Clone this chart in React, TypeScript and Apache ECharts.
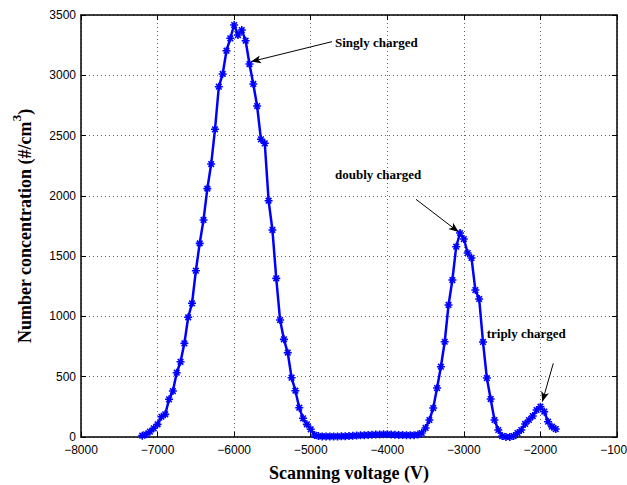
import React, { useEffect, useRef } from "react";
import * as echarts from "echarts";

const voltages = [
  -7200, -7150, -7100, -7050, -7000, -6950, -6900, -6850, -6800, -6750,
  -6700, -6650, -6600, -6550, -6500, -6450, -6400, -6350, -6300, -6250,
  -6200, -6150, -6100, -6050, -6000, -5950, -5900, -5850, -5800, -5750,
  -5700, -5650, -5600, -5550, -5500, -5450, -5400, -5350, -5300, -5250,
  -5200, -5150, -5100, -5050, -5000, -4950, -4900, -4850, -4800, -4750,
  -4700, -4650, -4600, -4550, -4500, -4450, -4400, -4350, -4300, -4250,
  -4200, -4150, -4100, -4050, -4000, -3950, -3900, -3850, -3800, -3750,
  -3700, -3650, -3600, -3550, -3500, -3450, -3400, -3350, -3300, -3250,
  -3200, -3150, -3100, -3050, -3000, -2950, -2900, -2850, -2800, -2750,
  -2700, -2650, -2600, -2550, -2500, -2450, -2400, -2350, -2300, -2250,
  -2200, -2150, -2100, -2050, -2000, -1950, -1900, -1850, -1800,
];

const concentrations = [
  11, 22, 44, 72, 105, 168, 188, 313, 381, 533,
  624, 777, 993, 1109, 1379, 1606, 1800, 2060, 2264, 2552,
  2905, 3011, 3204, 3307, 3417, 3334, 3375, 3287, 3093, 2928,
  2745, 2469, 2436, 1960, 1717, 1316, 970, 810, 699, 492,
  384, 243, 155, 105, 64, 17, 8, 5, 5, 5,
  5, 5, 6, 7, 8, 10, 12, 14, 15, 17,
  18, 20, 20, 22, 22, 20, 18, 17, 16, 15,
  15, 15, 20, 33, 75, 141, 240, 406, 583, 790,
  1095, 1302, 1578, 1692, 1642, 1526, 1485, 1219, 1145, 788,
  489, 315, 141, 58, 8, 0, 0, 8, 33, 58,
  108, 141, 174, 224, 251, 210, 127, 86, 66,
];

const annotationTexts = ["Singly charged", "doubly charged", "triply charged"];
const annotationTextAt = [
  [-4683, 3276],
  [-4683, 2179],
  [-2702, 860],
];
const arrowFrom = [
  [-4722, 3279],
  [-3625, 1971],
  [-1832, 611],
];
const arrowTo = [
  [-5780, 3113],
  [-3068, 1700],
  [-1975, 293],
];

const xTicks = { min: -8000, max: -1000, interval: 1000 };
const yTicks = { min: 0, max: 3500, interval: 500 };

const serif = "'Liberation Serif', 'Times New Roman', serif";
const sans = "'Liberation Sans', Arial, sans-serif";

export default function App() {
  const ref = useRef<HTMLDivElement>(null);

  useEffect(() => {
    document.body.style.margin = "0";
    document.body.style.overflow = "hidden";
    if (!ref.current) return;
    const chart = echarts.init(ref.current, undefined, { renderer: "svg" });

    const fmt = (v: number) => (v < 0 ? "\u2212" + Math.abs(v) : String(v));

    const axisLine = { show: true, onZero: false, lineStyle: { color: "#000", width: 1.5 } };
    const axisTick = { show: true, inside: true, length: 5, lineStyle: { color: "#000", width: 1 } };
    const splitLine = { show: true, lineStyle: { type: [1, 3], color: "#666", width: 1 } };

    const option = {
      animation: false,
      backgroundColor: "#fff",
      grid: {
        left: 81,
        right: 10,
        top: 15,
        bottom: 48,
        containLabel: false,
        outerBoundsMode: "none",
      },
      xAxis: [
        {
          type: "value",
          ...xTicks,
          position: "bottom",
          axisLine,
          axisTick,
          splitLine,
          axisLabel: { formatter: fmt, color: "#000", fontSize: 12, fontFamily: sans, margin: 7 },
          name: "Scanning voltage (V)",
          nameLocation: "middle",
          nameGap: 27,
          nameTextStyle: { fontFamily: serif, fontWeight: "bold", fontSize: 18, color: "#000" },
        },
        {
          type: "value",
          ...xTicks,
          position: "top",
          axisLine,
          axisTick,
          splitLine: { show: false },
          axisLabel: { show: false },
        },
      ],
      yAxis: [
        {
          type: "value",
          ...yTicks,
          position: "left",
          axisLine,
          axisTick,
          splitLine,
          axisLabel: { formatter: fmt, color: "#000", fontSize: 12, fontFamily: sans, margin: 5 },
          name: "{a|Number concentration (#/cm}{s|3}{a|)}",
          nameLocation: "middle",
          nameGap: 47,
          nameRotate: 90,
          nameTextStyle: {
            rich: {
              a: { fontFamily: serif, fontWeight: "bold", fontSize: 18, color: "#000", lineHeight: 24, verticalAlign: "bottom" },
              s: { fontFamily: serif, fontWeight: "bold", fontSize: 13, color: "#000", lineHeight: 24, verticalAlign: "top" },
            },
          },
        },
        {
          type: "value",
          ...yTicks,
          position: "right",
          axisLine,
          axisTick,
          splitLine: { show: false },
          axisLabel: { show: false },
        },
      ],
      series: [
        {
          type: "line",
          xAxisIndex: 0,
          yAxisIndex: 0,
          data: voltages.map((v, i) => [v, concentrations[i]]),
          lineStyle: { color: "#0000ff", width: 2.5 },
          symbol: "path://M5,0L5,10M0,5L10,5M1.5,1.5L8.5,8.5M8.5,1.5L1.5,8.5",
          symbolSize: 8,
          showAllSymbol: true,
          itemStyle: { color: "#0000ff", borderColor: "#0000ff", borderWidth: 1.6 },
          emphasis: { disabled: true },
          silent: true,
          z: 5,
          markLine: {
            silent: true,
            symbol: ["none", "arrow"],
            symbolSize: [6, 10],
            label: { show: false },
            lineStyle: { color: "#000", width: 1, type: "solid" },
            emphasis: { disabled: true },
            data: arrowFrom.map((f, i) => [
              { coord: f },
              { coord: arrowTo[i] },
            ]),
          },
          markPoint: {
            silent: true,
            data: annotationTexts.map((t, i) => ({
              coord: annotationTextAt[i],
              symbol: "circle",
              symbolSize: 0,
              itemStyle: { color: "transparent" },
              label: {
                show: true,
                position: "right",
                distance: 0,
                formatter: t,
                fontFamily: serif,
                fontWeight: "bold",
                fontSize: 13,
                color: "#000",
              },
            })),
          },
        },
      ],
    };

    chart.setOption(option as any);
    return () => chart.dispose();
  }, []);

  return (
    <div
      ref={ref}
      style={{ position: "fixed", left: 0, top: 0, width: 627, height: 485 }}
    />
  );
}
